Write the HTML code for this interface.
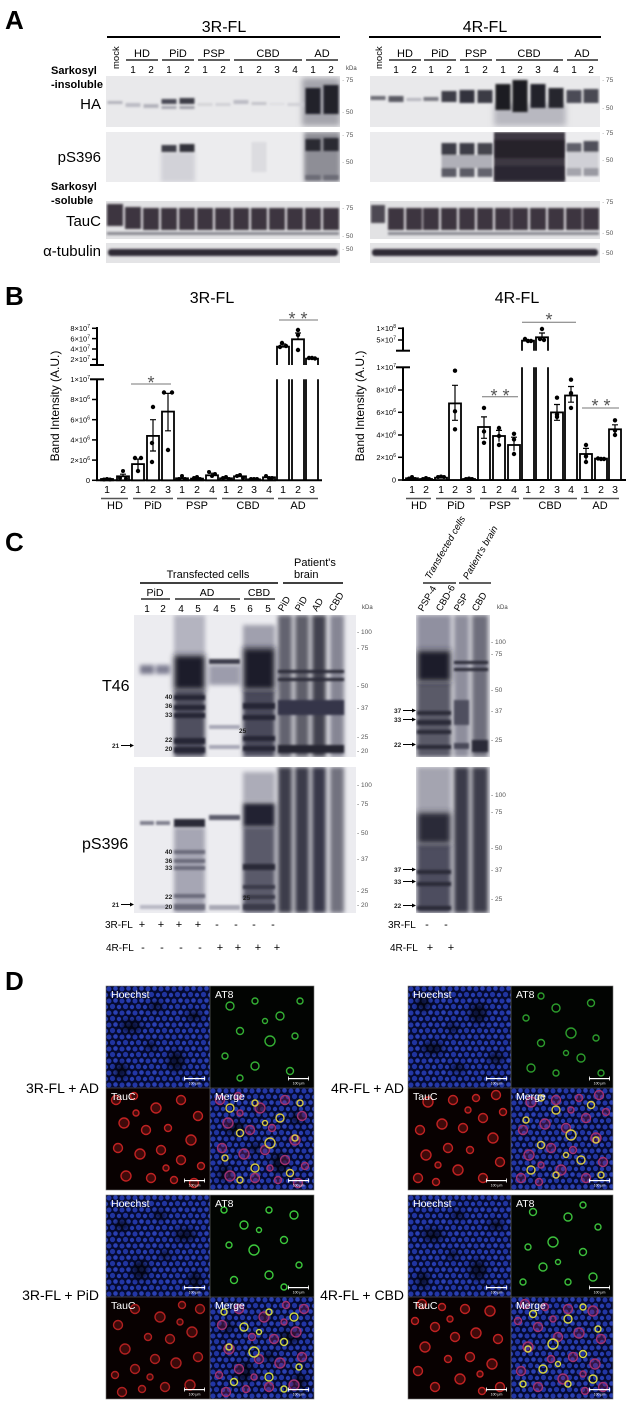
<!DOCTYPE html>
<html><head><meta charset="utf-8">
<style>
html,body{margin:0;padding:0;background:#fff;}
svg{display:block;}
text{font-family:"Liberation Sans",Arial,sans-serif;}
</style></head><body>
<svg width="633" height="1403" viewBox="0 0 633 1403" xmlns="http://www.w3.org/2000/svg">
<defs>
<filter id="b1" x="-30%" y="-30%" width="160%" height="160%"><feGaussianBlur stdDeviation="1"/></filter>
<filter id="b2" x="-30%" y="-30%" width="160%" height="160%"><feGaussianBlur stdDeviation="2"/></filter>
<filter id="b3" x="-40%" y="-40%" width="180%" height="180%"><feGaussianBlur stdDeviation="3"/></filter>
<pattern id="nuc" width="13" height="12" patternUnits="userSpaceOnUse">
<rect width="13" height="12" fill="#050a30"/>
<circle cx="3" cy="3" r="2.5" fill="#2236a6"/>
<circle cx="9.5" cy="2.5" r="2.3" fill="#2a40b4"/>
<circle cx="6.5" cy="8.5" r="2.6" fill="#2034a0"/>
<circle cx="0" cy="9" r="2.2" fill="#263cae"/>
<circle cx="13" cy="9" r="2.2" fill="#263cae"/>
</pattern>
<g id="dk" fill="#000" opacity=".65" filter="url(#b3)">
<ellipse cx="25" cy="40" rx="10" ry="6"/><ellipse cx="70" cy="75" rx="8" ry="10"/><ellipse cx="50" cy="20" rx="6" ry="4"/><ellipse cx="88" cy="30" rx="7" ry="5"/><ellipse cx="15" cy="85" rx="6" ry="8"/><ellipse cx="45" cy="60" rx="5" ry="4"/>
</g>
<g id="gr" fill="none" stroke="currentColor" stroke-width="1.4">
<circle cx="20" cy="20" r="4"/><circle cx="45" cy="15" r="3"/><circle cx="70" cy="30" r="4"/><circle cx="30" cy="45" r="3.5"/><circle cx="60" cy="55" r="5"/><circle cx="85" cy="50" r="3"/><circle cx="15" cy="70" r="3"/><circle cx="45" cy="80" r="4"/><circle cx="80" cy="85" r="3.5"/><circle cx="90" cy="15" r="3"/><circle cx="55" cy="35" r="2.5"/><circle cx="30" cy="92" r="3"/>
</g>
<g id="rd" fill="currentColor" fill-opacity=".3" stroke="currentColor" stroke-width="1.4">
<circle cx="10" cy="12" r="4.5"/><circle cx="28" cy="8" r="3.5"/><circle cx="50" cy="20" r="5"/><circle cx="75" cy="12" r="4.5"/><circle cx="92" cy="28" r="4.5"/><circle cx="18" cy="35" r="5"/><circle cx="40" cy="42" r="4.5"/><circle cx="62" cy="40" r="3.5"/><circle cx="85" cy="52" r="5"/><circle cx="12" cy="60" r="4.5"/><circle cx="34" cy="66" r="5"/><circle cx="55" cy="62" r="4.5"/><circle cx="75" cy="72" r="4.5"/><circle cx="95" cy="78" r="3.5"/><circle cx="20" cy="88" r="5"/><circle cx="45" cy="90" r="4.5"/><circle cx="68" cy="92" r="3.5"/><circle cx="88" cy="95" r="4.5"/><circle cx="30" cy="25" r="3"/><circle cx="60" cy="80" r="3"/>
</g>
<g id="sb" fill="#fff">
<rect x="78" y="92" width="21" height="1.2"/><rect x="78" y="90.5" width="0.8" height="4"/><rect x="98.2" y="90.5" width="0.8" height="4"/>
<text x="88.5" y="98.5" font-size="3.5" text-anchor="middle">100 μm</text>
</g>
</defs>
<rect width="633" height="1403" fill="#fff"/>

<!-- ================= PANEL A ================= -->
<text x="5" y="29" font-size="26" font-weight="bold">A</text>
<text x="224" y="32" font-size="16" text-anchor="middle">3R-FL</text>
<line x1="107" y1="37" x2="340" y2="37" stroke="#000" stroke-width="2"/>
<text x="485" y="32" font-size="16" text-anchor="middle">4R-FL</text>
<line x1="369" y1="37" x2="601" y2="37" stroke="#000" stroke-width="2"/>

<g font-size="11" text-anchor="middle">
<text x="142" y="57">HD</text><text x="178" y="57">PiD</text><text x="214" y="57">PSP</text><text x="268" y="57">CBD</text><text x="322" y="57">AD</text>
<text x="405" y="57">HD</text><text x="440" y="57">PiD</text><text x="476" y="57">PSP</text><text x="529" y="57">CBD</text><text x="582" y="57">AD</text>
</g>
<g stroke="#000" stroke-width="1.3">
<line x1="126" y1="60" x2="158" y2="60"/><line x1="162" y1="60" x2="194" y2="60"/><line x1="198" y1="60" x2="230" y2="60"/><line x1="234" y1="60" x2="302" y2="60"/><line x1="306" y1="60" x2="338" y2="60"/>
<line x1="389" y1="60" x2="421" y2="60"/><line x1="424" y1="60" x2="456" y2="60"/><line x1="460" y1="60" x2="492" y2="60"/><line x1="496" y1="60" x2="563" y2="60"/><line x1="567" y1="60" x2="598" y2="60"/>
</g>
<text transform="translate(119,69) rotate(-90)" font-size="9.5">mock</text>
<text transform="translate(382,69) rotate(-90)" font-size="9.5">mock</text>
<g font-size="10" text-anchor="middle">
<text x="133" y="73">1</text><text x="151" y="73">2</text><text x="169" y="73">1</text><text x="187" y="73">2</text><text x="205" y="73">1</text><text x="223" y="73">2</text><text x="241" y="73">1</text><text x="259" y="73">2</text><text x="277" y="73">3</text><text x="295" y="73">4</text><text x="313" y="73">1</text><text x="331" y="73">2</text>
<text x="396" y="73">1</text><text x="414" y="73">2</text><text x="431" y="73">1</text><text x="449" y="73">2</text><text x="467" y="73">1</text><text x="485" y="73">2</text><text x="503" y="73">1</text><text x="520" y="73">2</text><text x="538" y="73">3</text><text x="556" y="73">4</text><text x="574" y="73">1</text><text x="591" y="73">2</text>
</g>
<text x="346" y="70" font-size="6" fill="#444">kDa</text>

<g font-size="11" font-weight="bold">
<text x="51" y="74">Sarkosyl</text><text x="51" y="88">-insoluble</text>
<text x="51" y="190">Sarkosyl</text><text x="51" y="204">-soluble</text>
</g>
<g font-size="15" text-anchor="end">
<text x="101" y="109">HA</text><text x="101" y="162">pS396</text><text x="101" y="226">TauC</text><text x="101" y="256">α-tubulin</text>
</g>

<!-- 3R HA -->
<svg x="106" y="76" width="234" height="51">
<rect width="234" height="51" fill="#e9e9eb"/>
<rect x="196" y="2" width="38" height="48" fill="#a4a4ac" filter="url(#b3)"/>
<g filter="url(#b1)">
<rect x="1.5" y="25" width="15" height="3" fill="#b4b4bc"/>
<rect x="19.5" y="27" width="15" height="4" fill="#bcbcc4"/><rect x="37.5" y="28" width="15" height="4" fill="#b4b4bc"/>
<rect x="55.5" y="23" width="15" height="5" fill="#4c4c56"/><rect x="73.5" y="22" width="15" height="6" fill="#3c3c46"/>
<rect x="55.5" y="30" width="15" height="3" fill="#a8a8b0"/><rect x="73.5" y="30" width="15" height="3" fill="#a0a0a8"/>
<rect x="91.5" y="27" width="15" height="3" fill="#d4d4d8"/><rect x="109.5" y="27" width="15" height="3" fill="#d0d0d6"/>
<rect x="127.5" y="24" width="15" height="4" fill="#bcbcc4"/><rect x="145.5" y="26" width="15" height="3" fill="#c4c4ca"/><rect x="163.5" y="27" width="15" height="2" fill="#dcdce0"/><rect x="181.5" y="27" width="15" height="3" fill="#d0d0d6"/>
<rect x="199.5" y="12" width="15" height="26" fill="#24242c"/><rect x="217.5" y="9" width="15" height="29" fill="#22222a"/>
</g>
</svg>
<!-- 4R HA -->
<svg x="370" y="76" width="230" height="51">
<rect width="230" height="51" fill="#e9e9eb"/>
<rect x="124" y="28" width="72" height="22" fill="#b8b8c0" filter="url(#b3)"/>
<g filter="url(#b1)">
<rect x="0.5" y="20" width="15" height="4" fill="#6c6c74"/><rect x="18.5" y="20" width="15" height="6" fill="#5a5a64"/><rect x="36.5" y="22" width="15" height="3" fill="#b8b8c0"/>
<rect x="53.5" y="21" width="15" height="4" fill="#7c7c84"/><rect x="71.5" y="15" width="15" height="11" fill="#3c3c46"/>
<rect x="89.5" y="14" width="15" height="13" fill="#32323c"/><rect x="107.5" y="14" width="15" height="13" fill="#3a3a44"/>
<rect x="125.5" y="8" width="15" height="26" fill="#1c1c24"/><rect x="142.5" y="4" width="15" height="32" fill="#1a1a22"/><rect x="160.5" y="8" width="15" height="24" fill="#22222a"/><rect x="178.5" y="12" width="15" height="20" fill="#26262e"/>
<rect x="196.5" y="14" width="15" height="13" fill="#4c4c56"/><rect x="213.5" y="13" width="15" height="14" fill="#484852"/>
</g>
</svg>
<!-- 3R pS396 -->
<svg x="106" y="132" width="234" height="50">
<rect width="234" height="50" fill="#ececee"/>
<rect x="55" y="20" width="34" height="30" fill="#d2d2d8" filter="url(#b2)"/>
<rect x="198" y="0" width="36" height="50" fill="#8e8e96" filter="url(#b2)"/>
<g filter="url(#b1)">
<rect x="55.5" y="13" width="15" height="7" fill="#404048"/><rect x="73.5" y="12" width="15" height="8" fill="#30303a"/>
<rect x="199.5" y="7" width="15" height="12" fill="#2a2a33"/><rect x="217.5" y="6" width="15" height="13" fill="#2a2a33"/>
<rect x="199.5" y="43" width="15" height="5" fill="#6c6c76"/><rect x="217.5" y="43" width="15" height="5" fill="#6c6c76"/>
<rect x="145.5" y="10" width="15" height="30" fill="#dcdce0"/>
</g>
</svg>
<!-- 4R pS396 -->
<svg x="370" y="132" width="230" height="50">
<rect width="230" height="50" fill="#ececee"/>
<rect x="124" y="0" width="71" height="50" fill="#3c3742" filter="url(#b1)"/>
<g filter="url(#b1)">
<rect x="71.5" y="23" width="51" height="13" fill="#b0b0b8"/>
<rect x="71.5" y="11" width="15" height="12" fill="#3c3c46"/><rect x="71.5" y="36" width="15" height="9" fill="#5c5c66"/>
<rect x="89.5" y="11" width="15" height="12" fill="#3c3c46"/><rect x="89.5" y="36" width="15" height="9" fill="#5c5c66"/>
<rect x="107.5" y="11" width="15" height="12" fill="#44444e"/><rect x="107.5" y="36" width="15" height="9" fill="#64646e"/>
<rect x="125" y="8" width="69" height="18" fill="#26212b"/><rect x="125" y="34" width="69" height="14" fill="#2a2530"/>
<rect x="196.5" y="11" width="15" height="9" fill="#60606a"/><rect x="196.5" y="36" width="15" height="8" fill="#a4a4ac"/>
<rect x="213.5" y="9" width="15" height="11" fill="#50505a"/><rect x="213.5" y="36" width="15" height="8" fill="#9a9aa2"/>
<rect x="196.5" y="20" width="32" height="16" fill="#d0d0d6"/>
</g>
</svg>
<!-- TauC -->
<svg x="106" y="201" width="234" height="38">
<rect width="234" height="38" fill="#e2e2e4"/>
<g filter="url(#b1)" fill="#3c3640">
<rect x="1" y="3" width="16" height="22"/><rect x="19" y="6" width="16" height="22"/><rect x="37" y="7" width="16" height="22"/><rect x="55" y="7" width="16" height="22"/><rect x="73" y="7" width="16" height="22"/><rect x="91" y="7" width="16" height="22"/><rect x="109" y="7" width="16" height="22"/><rect x="127" y="7" width="16" height="22"/><rect x="145" y="7" width="16" height="22"/><rect x="163" y="7" width="16" height="22"/><rect x="181" y="7" width="16" height="22"/><rect x="199" y="7" width="16" height="22"/><rect x="217" y="7" width="16" height="22"/>
<rect x="1" y="31" width="232" height="3" fill="#8a8a92"/>
</g>
</svg>
<svg x="370" y="201" width="230" height="38">
<rect width="230" height="38" fill="#e2e2e4"/>
<g filter="url(#b1)" fill="#3c3640">
<rect x="1" y="4" width="14" height="18" fill="#4e4853"/><rect x="18" y="7" width="16" height="22"/><rect x="36" y="7" width="16" height="22"/><rect x="53" y="7" width="16" height="22"/><rect x="71" y="7" width="16" height="22"/><rect x="89" y="7" width="16" height="22"/><rect x="107" y="7" width="16" height="22"/><rect x="125" y="7" width="16" height="22"/><rect x="142" y="7" width="16" height="22"/><rect x="160" y="7" width="16" height="22"/><rect x="178" y="7" width="16" height="22"/><rect x="196" y="7" width="16" height="22"/><rect x="213" y="7" width="16" height="22"/>
<rect x="18" y="31" width="211" height="3" fill="#8a8a92"/>
</g>
</svg>
<!-- tubulin -->
<svg x="106" y="243" width="234" height="20">
<rect width="234" height="20" fill="#e4e4e6"/>
<rect x="2" y="6" width="230" height="7" rx="3" fill="#2e2a34" filter="url(#b1)"/>
</svg>
<svg x="370" y="243" width="230" height="20">
<rect width="230" height="20" fill="#e4e4e6"/>
<rect x="2" y="6" width="226" height="7" rx="3" fill="#2e2a34" filter="url(#b1)"/>
</svg>
<!-- kDa markers A -->
<g font-size="6.5" fill="#555">
<text x="342" y="82">· 75</text><text x="342" y="114">· 50</text>
<text x="342" y="137">· 75</text><text x="342" y="164">· 50</text>
<text x="342" y="210">· 75</text><text x="342" y="238">· 50</text>
<text x="342" y="251">· 50</text>
<text x="602" y="82">· 75</text><text x="602" y="110">· 50</text>
<text x="602" y="135">· 75</text><text x="602" y="162">· 50</text>
<text x="602" y="204">· 75</text><text x="602" y="235">· 50</text>
<text x="602" y="255">· 50</text>
</g>

<!-- ================= PANEL B ================= -->
<text x="5" y="305" font-size="26" font-weight="bold">B</text>
<text x="212" y="303" font-size="16" text-anchor="middle">3R-FL</text>
<text x="517" y="303" font-size="16" text-anchor="middle">4R-FL</text>

<g stroke="#000" stroke-width="2" fill="none">
<line x1="97" y1="327" x2="97" y2="365"/>
<line x1="97" y1="379" x2="97" y2="481"/>
<line x1="96" y1="480.3" x2="322" y2="480.3"/>
<line x1="90" y1="365" x2="104" y2="365"/>
<line x1="90" y1="379.3" x2="104" y2="379.3"/>
</g>
<g stroke="#000" stroke-width="1.5">
<line x1="92" y1="328.3" x2="97" y2="328.3"/><line x1="92" y1="338.6" x2="97" y2="338.6"/><line x1="92" y1="349" x2="97" y2="349"/><line x1="92" y1="359.3" x2="97" y2="359.3"/>
<line x1="92" y1="399.5" x2="97" y2="399.5"/><line x1="92" y1="419.7" x2="97" y2="419.7"/><line x1="92" y1="439.9" x2="97" y2="439.9"/><line x1="92" y1="460.1" x2="97" y2="460.1"/><line x1="92" y1="480.3" x2="97" y2="480.3"/>
</g>
<g font-size="7.5" text-anchor="end">
<text x="90" y="331">8×10<tspan dy="-3" font-size="5">7</tspan></text>
<text x="90" y="341.3">6×10<tspan dy="-3" font-size="5">7</tspan></text>
<text x="90" y="351.7">4×10<tspan dy="-3" font-size="5">7</tspan></text>
<text x="90" y="362">2×10<tspan dy="-3" font-size="5">7</tspan></text>
<text x="90" y="382">1×10<tspan dy="-3" font-size="5">7</tspan></text>
<text x="90" y="402.2">8×10<tspan dy="-3" font-size="5">6</tspan></text>
<text x="90" y="422.4">6×10<tspan dy="-3" font-size="5">6</tspan></text>
<text x="90" y="442.6">4×10<tspan dy="-3" font-size="5">6</tspan></text>
<text x="90" y="462.8">2×10<tspan dy="-3" font-size="5">6</tspan></text>
<text x="90" y="483">0</text>
</g>
<text transform="translate(59,406) rotate(-90)" font-size="12" text-anchor="middle">Band Intensity (A.U.)</text>

<g stroke="#000" stroke-width="1.8" fill="#fff">
<rect x="101" y="479" width="12" height="1.3"/>
<rect x="117" y="476.3" width="12" height="4"/>
<rect x="132" y="464.1" width="12" height="16.2"/>
<rect x="147" y="435.9" width="12" height="44.4"/>
<rect x="162" y="411.6" width="12" height="68.7"/>
<rect x="176" y="478.3" width="12" height="2"/>
<rect x="191" y="478.6" width="12" height="1.7"/>
<rect x="206" y="475.3" width="12" height="5"/>
<rect x="220" y="478.3" width="12" height="2"/>
<rect x="234" y="476.3" width="12" height="4"/>
<rect x="248" y="479.3" width="12" height="1"/>
<rect x="263" y="477.3" width="12" height="3"/>
<path d="M277 480V379.3M289 379.3V480M292 480V379.3M304 379.3V480M306 480V379.3M318 379.3V480" fill="none"/>
<path d="M277 365V346.7H289V365M292 365V339.3H304V365M306 365V358.7H318V365" fill="none"/>
</g>
<g stroke="#000" stroke-width="1.2">
<path d="M123 476.3V474.2M120 474.2H126"/>
<path d="M138 469.2V459.1M135 459.1H141"/>
<path d="M153 451V419.7M150 419.7H156M150 451H156"/>
<path d="M168 430.8V393.4M165 393.4H171M165 430.8H171"/>
<path d="M212 475.3V473.2M209 473.2H215"/>
<path d="M298 339.3V333M295 333H301"/>
<path d="M283 346.7V344M280 344H286"/>
</g>
<g fill="#000">
<circle cx="104" cy="479.5" r="2"/><circle cx="107" cy="479" r="2"/><circle cx="110" cy="479.5" r="2"/>
<circle cx="120" cy="478" r="2"/><circle cx="123" cy="471" r="2"/><circle cx="126" cy="478.5" r="2"/>
<circle cx="135" cy="458" r="2.2"/><circle cx="141" cy="458" r="2.2"/><circle cx="138" cy="471" r="2.2"/>
<circle cx="153" cy="407" r="2.2"/><circle cx="152" cy="443" r="2.2"/><circle cx="152" cy="462" r="2.2"/>
<circle cx="164" cy="392.5" r="2.2"/><circle cx="172" cy="392.5" r="2.2"/><circle cx="168" cy="450" r="2.2"/>
<circle cx="182" cy="476" r="2"/><circle cx="179" cy="479" r="2"/><circle cx="185" cy="479" r="2"/>
<circle cx="194" cy="478" r="2"/><circle cx="197" cy="477" r="2"/><circle cx="200" cy="479" r="2"/>
<circle cx="209" cy="472" r="2"/><circle cx="212" cy="476" r="2"/><circle cx="215" cy="474" r="2"/>
<circle cx="223" cy="478" r="2"/><circle cx="226" cy="477" r="2"/><circle cx="229" cy="479" r="2"/>
<circle cx="237" cy="476" r="2"/><circle cx="240" cy="475" r="2"/><circle cx="243" cy="478" r="2"/>
<circle cx="251" cy="479" r="2"/><circle cx="254" cy="479" r="2"/><circle cx="257" cy="479" r="2"/>
<circle cx="266" cy="476" r="2"/><circle cx="269" cy="478" r="2"/><circle cx="272" cy="478" r="2"/>
<circle cx="282" cy="343" r="2.2"/><circle cx="280" cy="347" r="2.2"/><circle cx="286" cy="346" r="2.2"/>
<circle cx="298" cy="330" r="2.2"/><circle cx="298" cy="335" r="2.2"/><circle cx="298" cy="350" r="2.2"/>
<circle cx="309" cy="358" r="2.2"/><circle cx="312" cy="358" r="2.2"/><circle cx="315" cy="358.5" r="2.2"/>
</g>
<g stroke="#777" stroke-width="1">
<line x1="131" y1="384" x2="171" y2="384"/>
<line x1="279" y1="320" x2="318" y2="320"/>
</g>
<g font-size="18" fill="#555" text-anchor="middle">
<text x="151" y="389">*</text>
<text x="298" y="325">* *</text>
</g>
<g font-size="10.5" text-anchor="middle">
<text x="107" y="493">1</text><text x="123" y="493">2</text><text x="138" y="493">1</text><text x="153" y="493">2</text><text x="168" y="493">3</text><text x="182" y="493">1</text><text x="197" y="493">2</text><text x="212" y="493">4</text><text x="226" y="493">1</text><text x="240" y="493">2</text><text x="254" y="493">3</text><text x="269" y="493">4</text><text x="283" y="493">1</text><text x="298" y="493">2</text><text x="312" y="493">3</text>
<text x="412" y="493">1</text><text x="426" y="493">2</text><text x="441" y="493">1</text><text x="455" y="493">2</text><text x="469" y="493">3</text><text x="484" y="493">1</text><text x="499" y="493">2</text><text x="514" y="493">4</text><text x="528" y="493">1</text><text x="542" y="493">2</text><text x="557" y="493">3</text><text x="571" y="493">4</text><text x="586" y="493">1</text><text x="601" y="493">2</text><text x="615" y="493">3</text>
</g>
<g stroke="#555" stroke-width="1.4">
<line x1="101" y1="498.5" x2="128" y2="498.5"/><line x1="133" y1="498.5" x2="173" y2="498.5"/><line x1="177" y1="498.5" x2="217" y2="498.5"/><line x1="222" y1="498.5" x2="274" y2="498.5"/><line x1="278" y1="498.5" x2="318" y2="498.5"/>
<line x1="406" y1="498.5" x2="431" y2="498.5"/><line x1="436" y1="498.5" x2="475" y2="498.5"/><line x1="480" y1="498.5" x2="519" y2="498.5"/><line x1="523" y1="498.5" x2="577" y2="498.5"/><line x1="581" y1="498.5" x2="619" y2="498.5"/>
</g>
<g font-size="11" text-anchor="middle">
<text x="115" y="509">HD</text><text x="153" y="509">PiD</text><text x="197" y="509">PSP</text><text x="248" y="509">CBD</text><text x="298" y="509">AD</text>
<text x="419" y="509">HD</text><text x="456" y="509">PiD</text><text x="500" y="509">PSP</text><text x="550" y="509">CBD</text><text x="600" y="509">AD</text>
</g>

<g stroke="#000" stroke-width="2" fill="none">
<line x1="403" y1="327.3" x2="403" y2="350.7"/>
<line x1="403" y1="367" x2="403" y2="481"/>
<line x1="402" y1="480" x2="626" y2="480"/>
<line x1="396" y1="350.7" x2="410" y2="350.7"/>
<line x1="396" y1="367.3" x2="410" y2="367.3"/>
</g>
<g stroke="#000" stroke-width="1.5">
<line x1="398" y1="328.3" x2="403" y2="328.3"/><line x1="398" y1="340" x2="403" y2="340"/>
<line x1="398" y1="390" x2="403" y2="390"/><line x1="398" y1="412.3" x2="403" y2="412.3"/><line x1="398" y1="435" x2="403" y2="435"/><line x1="398" y1="457.3" x2="403" y2="457.3"/><line x1="398" y1="480" x2="403" y2="480"/>
</g>
<g font-size="7.5" text-anchor="end">
<text x="396" y="331">1×10<tspan dy="-3" font-size="5">8</tspan></text>
<text x="396" y="342.7">5×10<tspan dy="-3" font-size="5">7</tspan></text>
<text x="396" y="370">1×10<tspan dy="-3" font-size="5">7</tspan></text>
<text x="396" y="392.7">8×10<tspan dy="-3" font-size="5">6</tspan></text>
<text x="396" y="415">6×10<tspan dy="-3" font-size="5">6</tspan></text>
<text x="396" y="437.7">4×10<tspan dy="-3" font-size="5">6</tspan></text>
<text x="396" y="460">2×10<tspan dy="-3" font-size="5">6</tspan></text>
<text x="396" y="482.7">0</text>
</g>
<text transform="translate(364,406) rotate(-90)" font-size="12" text-anchor="middle">Band Intensity (A.U.)</text>
<g stroke="#000" stroke-width="1.8" fill="#fff">
<rect x="406" y="478.3" width="12" height="1.7"/>
<rect x="420" y="479" width="12" height="1"/>
<rect x="435" y="477.7" width="12" height="2.3"/>
<rect x="449" y="403.4" width="12" height="76.6"/>
<rect x="463" y="479" width="12" height="1"/>
<rect x="478" y="427" width="12" height="53"/>
<rect x="493" y="436" width="12" height="44"/>
<rect x="508" y="445" width="12" height="35"/>
<rect x="551" y="412.4" width="12" height="67.6"/>
<rect x="565" y="395.5" width="12" height="84.5"/>
<rect x="580" y="454" width="12" height="26"/>
<rect x="595" y="458.6" width="12" height="21.4"/>
<rect x="609" y="429.3" width="12" height="50.7"/>
<path d="M522 480V367.3M534 367.3V480M536 480V367.3M548 367.3V480" fill="none"/>
<path d="M522 350.7V340.7H534V350.7M536 350.7V337.3H548V350.7" fill="none"/>
</g>
<g stroke="#000" stroke-width="1.2">
<path d="M455 420.3V385.3M452 385.3H458M452 420.3H458"/>
<path d="M484 438.3V416.9M481 416.9H487M481 438.3H487"/>
<path d="M499 441.7V430.4M496 430.4H502"/>
<path d="M514 450.7V437.2M511 437.2H517"/>
<path d="M557 420.3V404.5M554 404.5H560M554 420.3H560"/>
<path d="M571 402.2V386.5M568 386.5H574M568 402.2H574"/>
<path d="M586 459.7V448.4M583 448.4H589"/>
<path d="M615 435V424.8M612 424.8H618"/>
<path d="M542 337.3V333M539 333H545"/>
</g>
<g fill="#000">
<circle cx="409" cy="478.5" r="2"/><circle cx="412" cy="477" r="2"/><circle cx="415" cy="479" r="2"/>
<circle cx="423" cy="479" r="2"/><circle cx="426" cy="478" r="2"/><circle cx="429" cy="479" r="2"/>
<circle cx="438" cy="477" r="2"/><circle cx="441" cy="476.5" r="2"/><circle cx="444" cy="477" r="2"/>
<circle cx="455" cy="370.7" r="2.2"/><circle cx="455" cy="411.3" r="2.2"/><circle cx="455" cy="429.3" r="2.2"/>
<circle cx="466" cy="479" r="2"/><circle cx="469" cy="478.5" r="2"/><circle cx="472" cy="479" r="2"/>
<circle cx="484" cy="407.9" r="2.2"/><circle cx="484" cy="431.5" r="2.2"/><circle cx="484" cy="442.8" r="2.2"/>
<circle cx="499" cy="428" r="2.2"/><circle cx="499" cy="436" r="2.2"/><circle cx="499" cy="445" r="2.2"/>
<circle cx="514" cy="433.8" r="2.2"/><circle cx="514" cy="439.4" r="2.2"/><circle cx="514" cy="454" r="2.2"/>
<circle cx="557" cy="397.7" r="2.2"/><circle cx="557" cy="414.6" r="2.2"/><circle cx="557" cy="416.9" r="2.2"/>
<circle cx="571" cy="379.7" r="2.2"/><circle cx="571" cy="393.2" r="2.2"/><circle cx="571" cy="407.9" r="2.2"/>
<circle cx="586" cy="445" r="2.2"/><circle cx="586" cy="456.3" r="2.2"/><circle cx="586" cy="462" r="2.2"/>
<circle cx="598" cy="458.5" r="2.2"/><circle cx="601" cy="459" r="2.2"/><circle cx="604" cy="459" r="2.2"/>
<circle cx="615" cy="420.3" r="2.2"/><circle cx="615" cy="430.4" r="2.2"/><circle cx="615" cy="435" r="2.2"/>
<circle cx="525" cy="339" r="2.2"/><circle cx="528" cy="341" r="2.2"/><circle cx="531" cy="341" r="2.2"/>
<circle cx="542" cy="329" r="2.2"/><circle cx="540" cy="339" r="2.2"/><circle cx="544" cy="340" r="2.2"/>
</g>
<g stroke="#777" stroke-width="1">
<line x1="482" y1="396.7" x2="518" y2="396.7"/>
<line x1="522" y1="322.3" x2="576" y2="322.3"/>
<line x1="582" y1="408" x2="619" y2="408"/>
</g>
<g font-size="18" fill="#555" text-anchor="middle">
<text x="500" y="402">* *</text>
<text x="549" y="326">*</text>
<text x="601" y="412">* *</text>
</g>

<!-- ================= PANEL C ================= -->
<text x="5" y="551" font-size="26" font-weight="bold">C</text>
<text x="208" y="578" font-size="11" text-anchor="middle">Transfected cells</text>
<line x1="140" y1="583" x2="278" y2="583" stroke="#000" stroke-width="1.5"/>
<text x="294" y="566" font-size="11">Patient's</text>
<text x="294" y="578" font-size="11">brain</text>
<line x1="283" y1="583" x2="343" y2="583" stroke="#000" stroke-width="1.5"/>
<g font-size="10.5" text-anchor="middle">
<text x="155" y="596">PiD</text><text x="207" y="596">AD</text><text x="259" y="596">CBD</text>
</g>
<g stroke="#000" stroke-width="1.2">
<line x1="141" y1="599" x2="170" y2="599"/><line x1="175" y1="599" x2="240" y2="599"/><line x1="244" y1="599" x2="275" y2="599"/>
</g>
<g font-size="10" text-anchor="middle">
<text x="147" y="612">1</text><text x="163" y="612">2</text><text x="181" y="612">4</text><text x="198" y="612">5</text><text x="216" y="612">4</text><text x="233" y="612">5</text><text x="250" y="612">6</text><text x="268" y="612">5</text>
</g>
<g font-size="9.5">
<text transform="translate(283,612) rotate(-60)">PiD</text>
<text transform="translate(300,612) rotate(-60)">PiD</text>
<text transform="translate(317,612) rotate(-60)">AD</text>
<text transform="translate(334,612) rotate(-60)">CBD</text>
<text transform="translate(423,612) rotate(-60)">PSP-4</text>
<text transform="translate(441,612) rotate(-60)">CBD-6</text>
<text transform="translate(459,612) rotate(-60)">PSP</text>
<text transform="translate(477,612) rotate(-60)">CBD</text>
<text transform="translate(430,580) rotate(-60)" font-style="italic">Transfected cells</text>
<text transform="translate(468,580) rotate(-60)" font-style="italic">Patient's brain</text>
</g>
<g stroke="#000" stroke-width="1.2">
<line x1="423" y1="583" x2="456" y2="583"/><line x1="459" y1="583" x2="491" y2="583"/>
</g>
<text x="362" y="609" font-size="6" fill="#444">kDa</text>
<text x="497" y="609" font-size="6" fill="#444">kDa</text>

<!-- T46 left -->
<svg x="134" y="615" width="222" height="142">
<rect width="222" height="142" fill="#ececf0"/>
<g filter="url(#b2)">
<rect x="6" y="50" width="14" height="9" fill="#7a7a8e"/><rect x="22" y="50" width="14" height="9" fill="#808094"/>
<rect x="40" y="0" width="31" height="40" fill="#b4b4c0"/>
<rect x="40" y="75" width="31" height="67" fill="#50505e"/>
<rect x="75" y="50" width="31" height="20" fill="#9c9cac"/>
<rect x="109" y="10" width="32" height="25" fill="#a0a0ae"/>
<rect x="109" y="75" width="32" height="67" fill="#4a4a5a"/>
<rect x="144" y="0" width="14" height="142" fill="#64646f"/><rect x="161" y="0" width="14" height="142" fill="#5e5e6b"/><rect x="178" y="0" width="14" height="142" fill="#42424f"/><rect x="196" y="0" width="14" height="142" fill="#868694"/>
</g>
<g filter="url(#b3)">
<rect x="40" y="40" width="31" height="35" fill="#1e1e2c"/>
<rect x="109" y="33" width="32" height="42" fill="#1e1e2c"/>
</g>
<g filter="url(#b1)" fill="#262634">
<rect x="40" y="80" width="31" height="5"/><rect x="40" y="90" width="31" height="5"/><rect x="40" y="98" width="31" height="5"/><rect x="40" y="123" width="31" height="6"/><rect x="40" y="132" width="31" height="6"/>
<rect x="75" y="44" width="31" height="5" fill="#3c3c4c"/>
<rect x="75" y="110" width="31" height="4" fill="#a8a8b6"/><rect x="75" y="130" width="31" height="4" fill="#a8a8b6"/>
<rect x="109" y="88" width="32" height="6"/><rect x="109" y="100" width="32" height="5"/><rect x="109" y="121" width="32" height="5"/><rect x="109" y="131" width="32" height="5"/>
<rect x="144" y="55" width="66" height="3" fill="#2a2a38"/><rect x="144" y="63" width="66" height="3" fill="#2a2a38"/>
<rect x="144" y="85" width="66" height="15" fill="#34344a"/><rect x="144" y="130" width="66" height="8" fill="#262632"/>
</g>
</svg>
<!-- pS396 left -->
<svg x="134" y="767" width="222" height="146">
<rect width="222" height="146" fill="#ececf0"/>
<g filter="url(#b2)">
<rect x="40" y="60" width="31" height="86" fill="#a6a6b4"/>
<rect x="109" y="5" width="32" height="30" fill="#acacb8"/>
<rect x="109" y="60" width="32" height="86" fill="#5a5a6a"/>
<rect x="144" y="0" width="14" height="146" fill="#3c3c4c"/><rect x="161" y="0" width="14" height="146" fill="#3a3a4a"/><rect x="178" y="0" width="14" height="146" fill="#383848"/><rect x="196" y="0" width="14" height="146" fill="#72727f"/>
</g>
<g filter="url(#b1)">
<rect x="6" y="54" width="14" height="4" fill="#80808e"/><rect x="22" y="54" width="14" height="4" fill="#80808e"/>
<rect x="6" y="138" width="30" height="4" fill="#b8b8c4"/>
<rect x="40" y="52" width="31" height="8" fill="#2a2a38"/>
<rect x="40" y="83" width="31" height="4" fill="#6a6a7a"/><rect x="40" y="92" width="31" height="4" fill="#6a6a7a"/><rect x="40" y="99" width="31" height="4" fill="#6a6a7a"/><rect x="40" y="127" width="31" height="4" fill="#6a6a7a"/><rect x="40" y="137" width="31" height="6" fill="#6a6a7a"/>
<rect x="75" y="48" width="31" height="5" fill="#5c5c6c"/><rect x="75" y="138" width="31" height="5" fill="#a8a8b4"/>
<rect x="109" y="97" width="32" height="6" fill="#2a2a38"/><rect x="109" y="118" width="32" height="4" fill="#3a3a4a"/><rect x="109" y="128" width="32" height="4" fill="#3a3a4a"/><rect x="109" y="137" width="32" height="6" fill="#3a3a4a"/>
</g>
<rect x="109" y="36" width="32" height="24" fill="#222232" filter="url(#b2)"/>
</svg>
<!-- right T46 -->
<svg x="416" y="615" width="74" height="142">
<rect width="74" height="142" fill="#e6e6ea"/>
<g filter="url(#b2)">
<rect x="1" y="0" width="34" height="35" fill="#9090a0"/>
<rect x="1" y="67" width="34" height="75" fill="#5a5a68"/>
<rect x="38" y="0" width="15" height="142" fill="#8e8e9c"/>
<rect x="56" y="0" width="16" height="142" fill="#6e6e7c"/>
</g>
<rect x="1" y="35" width="34" height="32" fill="#1e1e2c" filter="url(#b3)"/>
<g filter="url(#b1)" fill="#2a2a38">
<rect x="1" y="96" width="34" height="4"/><rect x="1" y="105" width="34" height="5"/><rect x="1" y="115" width="34" height="4"/><rect x="1" y="130" width="34" height="4"/>
<rect x="38" y="46" width="34" height="3"/><rect x="38" y="53" width="34" height="3"/>
<rect x="38" y="85" width="15" height="25" fill="#50505e"/><rect x="38" y="128" width="15" height="6" fill="#4a4a58"/>
<rect x="56" y="125" width="16" height="12"/>
</g>
</svg>
<!-- right pS396 -->
<svg x="416" y="767" width="74" height="146">
<rect width="74" height="146" fill="#e6e6ea"/>
<g filter="url(#b2)">
<rect x="1" y="0" width="34" height="45" fill="#a4a4b0"/>
<rect x="1" y="77" width="34" height="69" fill="#4e4e5e"/>
<rect x="38" y="0" width="15" height="146" fill="#3a3a4a"/>
<rect x="56" y="0" width="16" height="146" fill="#3c3c4c"/>
</g>
<rect x="1" y="45" width="34" height="32" fill="#2a2a38" filter="url(#b3)"/>
<g filter="url(#b1)" fill="#2a2a38">
<rect x="1" y="103" width="34" height="4"/><rect x="1" y="115" width="34" height="4"/><rect x="1" y="139" width="34" height="4"/>
</g>
</svg>

<g font-size="6.5" fill="#555">
<text x="357" y="634">- 100</text><text x="357" y="650">- 75</text><text x="357" y="688">- 50</text><text x="357" y="710">- 37</text><text x="357" y="739">- 25</text><text x="357" y="753">- 20</text>
<text x="357" y="787">- 100</text><text x="357" y="806">- 75</text><text x="357" y="835">- 50</text><text x="357" y="861">- 37</text><text x="357" y="893">- 25</text><text x="357" y="907">- 20</text>
<text x="491" y="644">- 100</text><text x="491" y="656">- 75</text><text x="491" y="692">- 50</text><text x="491" y="713">- 37</text><text x="491" y="742">- 25</text>
<text x="491" y="797">- 100</text><text x="491" y="814">- 75</text><text x="491" y="850">- 50</text><text x="491" y="872">- 37</text><text x="491" y="901">- 25</text>
</g>
<g font-size="6.5" font-weight="bold" fill="#222">
<text x="165" y="699">40</text><text x="165" y="708">36</text><text x="165" y="717">33</text><text x="165" y="742">22</text><text x="165" y="751">20</text><text x="239" y="733">25</text>
<text x="165" y="854">40</text><text x="165" y="863">36</text><text x="165" y="870">33</text><text x="165" y="899">22</text><text x="165" y="909">20</text><text x="243" y="900">25</text>
<text x="112" y="748">21</text><text x="112" y="907">21</text>
<text x="394" y="713">37</text><text x="394" y="722">33</text><text x="394" y="747">22</text>
<text x="394" y="872">37</text><text x="394" y="884">33</text><text x="394" y="908">22</text>
</g>
<g stroke="#000" stroke-width="1">
<line x1="121" y1="745.5" x2="131" y2="745.5"/><line x1="121" y1="904.5" x2="131" y2="904.5"/>
<line x1="403" y1="710.5" x2="413" y2="710.5"/><line x1="403" y1="719.5" x2="413" y2="719.5"/><line x1="403" y1="744.5" x2="413" y2="744.5"/>
<line x1="403" y1="869.5" x2="413" y2="869.5"/><line x1="403" y1="881.5" x2="413" y2="881.5"/><line x1="403" y1="905.5" x2="413" y2="905.5"/>
</g>
<g fill="#000">
<path d="M134 745.5l-4-2v4z"/><path d="M134 904.5l-4-2v4z"/>
<path d="M416 710.5l-4-2v4z"/><path d="M416 719.5l-4-2v4z"/><path d="M416 744.5l-4-2v4z"/>
<path d="M416 869.5l-4-2v4z"/><path d="M416 881.5l-4-2v4z"/><path d="M416 905.5l-4-2v4z"/>
</g>
<text x="102" y="691" font-size="16">T46</text>
<text x="82" y="849" font-size="16">pS396</text>
<g font-size="10">
<text x="105" y="928">3R-FL</text><text x="106" y="951">4R-FL</text>
<text x="388" y="928">3R-FL</text><text x="390" y="951">4R-FL</text>
</g>
<g font-size="11" text-anchor="middle">
<text x="142" y="928">+</text><text x="161" y="928">+</text><text x="179" y="928">+</text><text x="198" y="928">+</text><text x="217" y="928">-</text><text x="236" y="928">-</text><text x="254" y="928">-</text><text x="273" y="928">-</text>
<text x="143" y="951">-</text><text x="162" y="951">-</text><text x="181" y="951">-</text><text x="200" y="951">-</text><text x="220" y="951">+</text><text x="238" y="951">+</text><text x="258" y="951">+</text><text x="277" y="951">+</text>
<text x="427" y="928">-</text><text x="446" y="928">-</text>
<text x="430" y="951">+</text><text x="451" y="951">+</text>
</g>

<!-- ================= PANEL D ================= -->
<text x="5" y="990" font-size="26" font-weight="bold">D</text>
<g font-size="14">
<text x="99" y="1093" text-anchor="end">3R-FL + AD</text>
<text x="404" y="1093" text-anchor="end">4R-FL + AD</text>
<text x="99" y="1300" text-anchor="end">3R-FL + PiD</text>
<text x="404" y="1300" text-anchor="end">4R-FL + CBD</text>
</g>

<svg x="106" y="986" width="104" height="102"><rect width="104" height="102" fill="url(#nuc)"/><use href="#dk"/><text x="5" y="12" fill="#fff" font-size="10.5">Hoechst</text><use href="#sb"/></svg>
<svg x="210" y="986" width="104" height="102"><rect width="104" height="102" fill="#020402"/><use href="#gr" color="#34b034"/><text x="5" y="12" fill="#fff" font-size="10.5">AT8</text><use href="#sb"/></svg>
<svg x="106" y="1088" width="104" height="102"><rect width="104" height="102" fill="#080101"/><use href="#rd" color="#c02222"/><text x="5" y="12" fill="#fff" font-size="10.5">TauC</text><use href="#sb"/></svg>
<svg x="210" y="1088" width="104" height="102"><rect width="104" height="102" fill="url(#nuc)"/><use href="#dk"/><use href="#rd" color="#a03070"/><use href="#gr" color="#d8c840"/><text x="5" y="12" fill="#fff" font-size="10.5">Merge</text><use href="#sb"/></svg>

<svg x="106" y="1195" width="104" height="102"><rect width="104" height="102" fill="url(#nuc)"/><use href="#dk" transform="translate(104,0) scale(-1,1)"/><text x="5" y="12" fill="#fff" font-size="10.5">Hoechst</text><use href="#sb"/></svg>
<svg x="210" y="1195" width="104" height="102"><rect width="104" height="102" fill="#020402"/><use href="#gr" color="#3cc83c" transform="translate(104,0) scale(-1,1)"/><text x="5" y="12" fill="#fff" font-size="10.5">AT8</text><use href="#sb"/></svg>
<svg x="106" y="1297" width="104" height="102"><rect width="104" height="102" fill="#080101"/><use href="#rd" color="#b02020" transform="translate(104,0) scale(-1,1)"/><text x="5" y="12" fill="#fff" font-size="10.5">TauC</text><use href="#sb"/></svg>
<svg x="210" y="1297" width="104" height="102"><rect width="104" height="102" fill="url(#nuc)"/><use href="#dk" transform="translate(104,0) scale(-1,1)"/><use href="#rd" color="#a03070" transform="translate(104,0) scale(-1,1)"/><use href="#gr" color="#d0d840" transform="translate(104,0) scale(-1,1)"/><text x="5" y="12" fill="#fff" font-size="10.5">Merge</text><use href="#sb"/></svg>

<svg x="408" y="986" width="103" height="102"><rect width="103" height="102" fill="url(#nuc)"/><use href="#dk" transform="translate(0,102) scale(1,-1)"/><text x="5" y="12" fill="#fff" font-size="10.5">Hoechst</text><use href="#sb"/></svg>
<svg x="511" y="986" width="102" height="102"><rect width="102" height="102" fill="#020402"/><use href="#gr" color="#2c9c2c" transform="translate(0,102) scale(1,-1)"/><text x="5" y="12" fill="#fff" font-size="10.5">AT8</text><use href="#sb"/></svg>
<svg x="408" y="1088" width="103" height="102"><rect width="103" height="102" fill="#080101"/><use href="#rd" color="#c02222" transform="translate(0,102) scale(1,-1)"/><text x="5" y="12" fill="#fff" font-size="10.5">TauC</text><use href="#sb"/></svg>
<svg x="511" y="1088" width="102" height="102"><rect width="102" height="102" fill="url(#nuc)"/><use href="#rd" color="#a03070" transform="translate(0,102) scale(1,-1)"/><use href="#gr" color="#d8c840" transform="translate(0,102) scale(1,-1)"/><text x="5" y="12" fill="#fff" font-size="10.5">Merge</text><use href="#sb"/></svg>

<svg x="408" y="1195" width="103" height="102"><rect width="103" height="102" fill="url(#nuc)"/><use href="#dk"/><text x="5" y="12" fill="#fff" font-size="10.5">Hoechst</text><use href="#sb"/></svg>
<svg x="511" y="1195" width="102" height="102"><rect width="102" height="102" fill="#020402"/><use href="#gr" color="#3cc03c" transform="translate(102,102) scale(-1,-1)"/><text x="5" y="12" fill="#fff" font-size="10.5">AT8</text><use href="#sb"/></svg>
<svg x="408" y="1297" width="103" height="102"><rect width="103" height="102" fill="#080101"/><use href="#rd" color="#c02222" transform="translate(102,102) scale(-1,-1)"/><text x="5" y="12" fill="#fff" font-size="10.5">TauC</text><use href="#sb"/></svg>
<svg x="511" y="1297" width="102" height="102"><rect width="102" height="102" fill="url(#nuc)"/><use href="#rd" color="#a03070" transform="translate(102,102) scale(-1,-1)"/><use href="#gr" color="#d8d840" transform="translate(102,102) scale(-1,-1)"/><text x="5" y="12" fill="#fff" font-size="10.5">Merge</text><use href="#sb"/></svg>

<g stroke="#777" stroke-width="0.6" fill="none">
<rect x="106" y="986" width="208" height="204"/><rect x="106" y="1195" width="208" height="204"/>
<rect x="408" y="986" width="205" height="204"/><rect x="408" y="1195" width="205" height="204"/>
<line x1="210" y1="986" x2="210" y2="1190"/><line x1="106" y1="1088" x2="314" y2="1088"/>
<line x1="210" y1="1195" x2="210" y2="1399"/><line x1="106" y1="1297" x2="314" y2="1297"/>
<line x1="511" y1="986" x2="511" y2="1190"/><line x1="408" y1="1088" x2="613" y2="1088"/>
<line x1="511" y1="1195" x2="511" y2="1399"/><line x1="408" y1="1297" x2="613" y2="1297"/>
</g>
</svg>
</body></html>
